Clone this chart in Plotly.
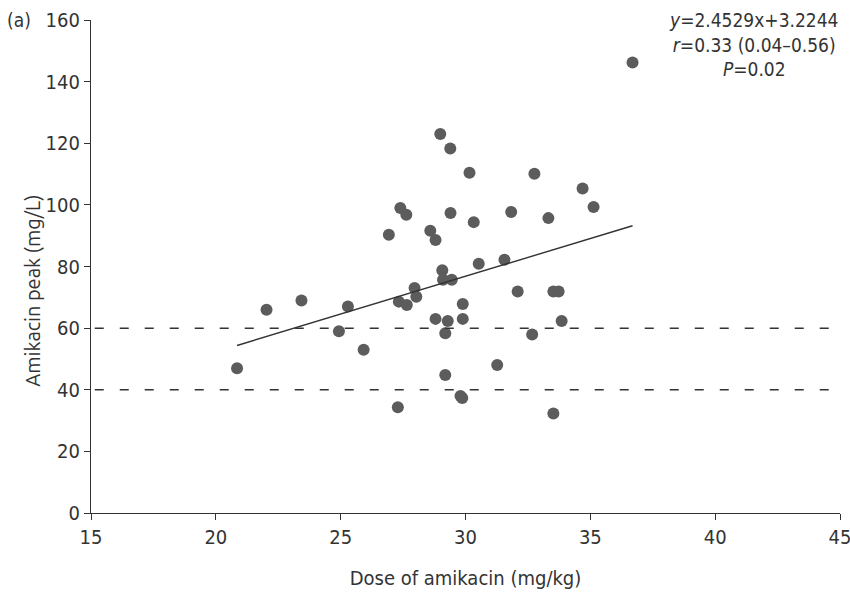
import plotly.graph_objects as go

dose = [20.85, 22.03, 23.43, 24.93, 25.29, 25.92, 26.93, 27.29, 27.33, 27.39,
        27.63, 27.65, 27.96, 28.03, 28.59, 28.80, 28.80, 28.99, 29.07, 29.10,
        29.19, 29.19, 29.29, 29.39, 29.40, 29.45, 29.80, 29.87, 29.89, 29.89,
        30.16, 30.33, 30.53, 31.27, 31.56, 31.83, 32.09, 32.67, 32.76, 33.32,
        33.52, 33.52, 33.73, 33.85, 34.69, 35.13, 36.69]
peak = [47.0, 66.0, 69.0, 59.0, 67.0, 53.0, 90.3, 34.3, 68.6, 99.0,
        96.8, 67.5, 73.0, 70.2, 91.6, 88.6, 63.0, 123.0, 78.8, 75.7,
        58.3, 44.8, 62.3, 118.3, 97.4, 75.7, 38.0, 37.3, 67.8, 63.0,
        110.4, 94.4, 80.9, 48.0, 82.2, 97.7, 71.9, 57.9, 110.1, 95.7,
        71.9, 32.3, 71.9, 62.3, 105.3, 99.3, 146.2]

slope = 2.4529
intercept = 3.2244
thresholds = [40, 60]
x_ticks = [15, 20, 25, 30, 35, 40, 45]
y_ticks = [0, 20, 40, 60, 80, 100, 120, 140, 160]

FONT = "DejaVu Sans Condensed, Liberation Sans Narrow, Roboto"
TXT = "#333333"

fig = go.Figure()
fig.add_trace(go.Scatter(x=dose, y=peak, mode="markers",
                         marker=dict(size=12, color="#5c5c5c", line=dict(width=0)),
                         showlegend=False, hoverinfo="skip"))
xl = [min(dose), max(dose)]
fig.add_trace(go.Scatter(x=xl, y=[slope * v + intercept for v in xl], mode="lines",
                         line=dict(color="#333333", width=1.4), showlegend=False,
                         hoverinfo="skip"))
for t in thresholds:
    fig.add_shape(type="line", xref="paper", x0=0.005, x1=1, yref="y", y0=t, y1=t,
                  line=dict(color="#333333", width=1.5, dash="9px,16px"))

fig.add_annotation(xref="paper", yref="paper", x=-0.078, y=1.0, text="(a)",
                   showarrow=False, font=dict(family=FONT, size=19, color=TXT),
                   xanchor="right", yanchor="middle")
fig.add_annotation(xref="paper", yref="paper", x=-0.078, y=0.45,
                   text="Amikacin peak (mg/L)", textangle=-90,
                   showarrow=False, font=dict(family="Ubuntu, Open Sans", size=20, color=TXT),
                   xanchor="center", yanchor="middle")
fig.add_annotation(x=45, y=160, xref="x", yref="y",
                   text="<i>y</i>=2.4529x+3.2244<br><i>r</i>=0.33 (0.04–0.56)<br><i>P</i>=0.02",
                   showarrow=False, align="center", xanchor="right", yanchor="top",
                   yshift=13,
                   font=dict(family=FONT, size=19, color=TXT))

fig.update_xaxes(range=[15, 45], tickvals=x_ticks, ticks="outside", ticklen=6,
                 tickcolor="#333", showline=True, linecolor="#333", linewidth=1.3,
                 showgrid=False, zeroline=False, automargin=False,
                 ticklabeloverflow="allow",
                 tickfont=dict(family=FONT, size=20, color=TXT),
                 title=dict(text="Dose of amikacin (mg/kg)", standoff=22,
                            font=dict(family=FONT, size=20, color=TXT)))
fig.update_yaxes(range=[0, 160], tickvals=y_ticks, ticks="outside", ticklen=6,
                 tickcolor="#333", showline=True, linecolor="#333", linewidth=1.3,
                 showgrid=False, zeroline=False, automargin=False,
                 ticklabeloverflow="allow",
                 tickfont=dict(family=FONT, size=20, color=TXT))

fig.update_layout(width=850, height=597, margin=dict(l=91, r=10, t=20, b=84),
                  plot_bgcolor="white", paper_bgcolor="white")
fig.write_html("out.html")
